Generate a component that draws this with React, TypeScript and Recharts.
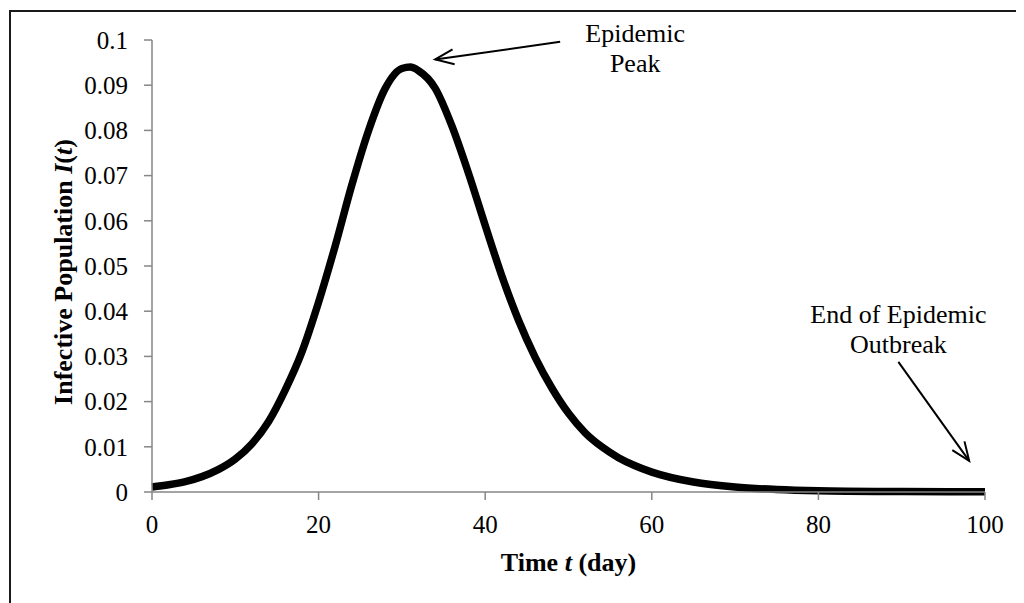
import React from 'react';
import { LineChart, Line, XAxis, YAxis, ReferenceLine } from 'recharts';

// time in days
const days = [0, 2, 4, 6, 8, 10, 12, 14, 16, 18, 20, 22, 24, 26, 28, 30, 31, 32, 34, 36, 38, 40, 42, 44, 46, 48, 50, 52, 54, 56, 58, 60, 65, 70, 75, 80, 90, 100];
// infective fraction I(t)
const infective = [0.0011, 0.0016, 0.0023, 0.0034, 0.005, 0.0073, 0.0107, 0.0156, 0.0226, 0.031, 0.042, 0.0545, 0.068, 0.08, 0.0893, 0.0937, 0.094, 0.0932, 0.0893, 0.081, 0.0705, 0.059, 0.0478, 0.038, 0.0298, 0.023, 0.0174, 0.0131, 0.01, 0.0076, 0.0058, 0.0044, 0.0022, 0.0011, 0.00055, 0.00028, 0.0001, 0.00003];

const xTicks = [0, 20, 40, 60, 80, 100];
const yTicks = [0, 0.01, 0.02, 0.03, 0.04, 0.05, 0.06, 0.07, 0.08, 0.09, 0.1];

// annotation arrows: [start, tip] in data units
const peakArrow = [{ x: 49, y: 0.0996 }, { x: 34, y: 0.0957 }];
const endArrow = [{ x: 89.6, y: 0.0288 }, { x: 98.1, y: 0.0069 }];

const data = days.map((t, i) => ({ t, I: infective[i] }));

const FONT = '"Liberation Serif", "Times New Roman", serif';
const AXIS = '#868686';

function arrowShape(lines: string[], textDx: number, textDy: number) {
  return (props: any) => {
    const { x1, y1, x2, y2 } = props;
    const ang = Math.atan2(y1 - y2, x1 - x2);
    const len = 20;
    const spread = (22 * Math.PI) / 180;
    const w1 = { x: x2 + len * Math.cos(ang - spread), y: y2 + len * Math.sin(ang - spread) };
    const w2 = { x: x2 + len * Math.cos(ang + spread), y: y2 + len * Math.sin(ang + spread) };
    return (
      <g>
        <line x1={x1} y1={y1} x2={x2} y2={y2} stroke="#000" strokeWidth={2} />
        <polyline points={`${w1.x},${w1.y} ${x2},${y2} ${w2.x},${w2.y}`} fill="none" stroke="#000" strokeWidth={2} />
        {lines.map((s, i) => (
          <text key={i} x={x1 + textDx} y={y1 + textDy + i * 30} textAnchor="middle" fontFamily={FONT} fontSize={26} fill="#000">
            {s}
          </text>
        ))}
      </g>
    );
  };
}

const YLabel = () => {
  const cx = 64;
  const cy = 264;
  return (
    <text x={cx} y={cy} transform={`rotate(-90, ${cx}, ${cy})`} textAnchor="middle" fontFamily={FONT} fontSize={26} fontWeight="bold" fill="#000">
      Infective Population <tspan fontStyle="italic">I</tspan>(<tspan fontStyle="italic">t</tspan>)
    </text>
  );
};

const XLabel = (props: any) => {
  const vb = props.viewBox || {};
  return (
    <text x={vb.x + vb.width / 2} y={vb.y + 79} textAnchor="middle" fontFamily={FONT} fontSize={26} fontWeight="bold" fill="#000">
      Time <tspan fontStyle="italic">t</tspan> (day)
    </text>
  );
};

export default function App() {
  return (
    <div style={{ position: 'relative', width: 1016, height: 595, overflow: 'hidden', background: '#fff' }}>
      <div style={{ position: 'absolute', left: 1, top: 2, width: 1200, height: 800, border: '2px solid #1a1a1a' }} />
      <div style={{ position: 'absolute', left: 0, top: 0 }}>
        <LineChart width={1016} height={595} data={data} margin={{ top: 32, right: 39, bottom: 31, left: 0 }}>
          <XAxis
            dataKey="t"
            type="number"
            domain={[0, 100]}
            ticks={xTicks}
            height={80}
            stroke={AXIS}
            strokeWidth={1.5}
            tickSize={8}
            tickMargin={15}
            tick={{ fill: '#000', fontSize: 25, fontFamily: FONT }}
            label={<XLabel />}
          />
          <YAxis
            type="number"
            domain={[0, 0.1]}
            ticks={yTicks}
            width={144}
            stroke={AXIS}
            strokeWidth={1.5}
            tickSize={8}
            tickMargin={16}
            tickFormatter={(v: number) => String(+v.toFixed(2))}
            tick={{ fill: '#000', fontSize: 25, fontFamily: FONT }}
            label={<YLabel />}
          />
          <Line type="monotone" dataKey="I" stroke="#000" strokeWidth={7.5} dot={false} isAnimationActive={false} />
          <ReferenceLine segment={peakArrow} shape={arrowShape(['Epidemic', 'Peak'], 75, 0)} />
          <ReferenceLine segment={endArrow} shape={arrowShape(['End of Epidemic', 'Outbreak'], 0, -39)} />
        </LineChart>
      </div>
    </div>
  );
}
